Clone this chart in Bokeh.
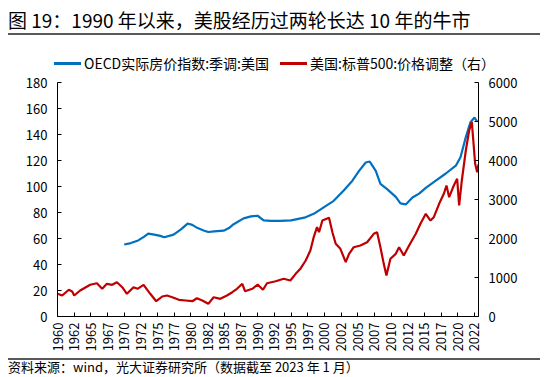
from bokeh.plotting import figure
from bokeh.models import Range1d, LinearAxis, FixedTicker, Div
from bokeh.layouts import column
from bokeh.embed import file_html
from bokeh.resources import INLINE
import math

# ---------------- data ----------------
house_year = [1970.0, 1971.0, 1972.1, 1973.0, 1973.6, 1974.5, 1975.4, 1976.0, 1977.4, 1978.5,
              1979.5, 1980.2, 1981.0, 1982.0, 1982.6, 1983.5, 1984.9, 1985.7, 1986.4, 1987.9,
              1989.0, 1990.0, 1990.9, 1992.0, 1993.4, 1995.0, 1997.0, 1998.4, 1999.9, 2001.4,
              2002.9, 2004.2, 2005.2, 2006.2, 2006.8, 2007.7, 2008.4, 2009.4, 2010.7, 2011.4,
              2012.2, 2013.2, 2014.2, 2015.2, 2016.7, 2018.2, 2019.7, 2020.4, 2021.2, 2021.9,
              2022.5, 2022.9]
house_val = [55.4, 56.5, 58.5, 61.5, 63.8, 63.0, 62.0, 61.0, 63.0, 67.0,
             71.5, 70.5, 68.0, 66.0, 65.0, 65.5, 66.0, 68.0, 71.0, 75.5,
             77.0, 77.5, 74.0, 73.5, 73.5, 74.0, 76.0, 79.0, 84.0, 89.0,
             97.0, 104.5, 112.0, 118.5, 119.2, 112.0, 102.0, 98.0, 92.0, 87.0,
             86.2, 91.5, 94.5, 99.0, 104.5, 110.0, 116.0, 122.5, 138.0, 149.5,
             153.0, 150.0]

sp_year = [1960.0, 1960.7, 1961.7, 1962.2, 1962.5, 1963.4, 1964.9, 1965.9, 1966.7, 1967.4,
           1968.2, 1968.9, 1969.7, 1970.4, 1971.4, 1972.0, 1972.9, 1973.9, 1974.8, 1975.7,
           1976.4, 1977.2, 1978.2, 1979.2, 1980.2, 1980.9, 1981.7, 1982.6, 1983.4, 1984.4,
           1985.4, 1986.2, 1986.9, 1987.7, 1988.1, 1989.2, 1990.0, 1990.8, 1991.4, 1992.7,
           1993.9, 1994.9, 1995.7, 1996.4, 1997.2, 1997.9, 1998.4, 1998.9, 1999.2, 1999.7,
           2000.7, 2001.2, 2001.7, 2002.4, 2003.2, 2003.7, 2004.4, 2005.4, 2006.4, 2007.4,
           2007.9, 2008.4, 2008.9, 2009.3, 2009.9, 2010.7, 2011.2, 2011.9, 2012.7, 2013.7,
           2014.4, 2015.2, 2015.9, 2016.4, 2017.2, 2017.9, 2018.3, 2018.7, 2019.4, 2019.9,
           2020.2, 2020.6, 2021.2, 2021.7, 2022.1, 2022.4, 2022.6, 2022.9, 2023.1]
sp_val = [582, 538, 685, 640, 538, 667, 813, 853, 710, 838,
          813, 880, 751, 582, 751, 710, 813, 582, 392, 513,
          538, 495, 428, 410, 392, 469, 410, 325, 495, 453,
          538, 623, 710, 838, 649, 710, 820, 685, 853, 905,
          967, 923, 1094, 1222, 1436, 1692, 2034, 2290, 2162, 2461,
          2530, 2162, 1864, 1736, 1392, 1607, 1777, 1820, 1905, 2120,
          2162, 1777, 1350, 1051, 1479, 1607, 1777, 1564, 1820, 2120,
          2376, 2633, 2461, 2547, 2889, 3146, 3359, 3059, 3359, 3530,
          2846, 3487, 4256, 4769, 4982, 4341, 3915, 3700, 3900]

x_tick_pos = [1960 + 2.5 * i for i in range(26)]
x_tick_labels = ["1960", "1962", "1965", "1967", "1970", "1972", "1975", "1977", "1980",
                 "1982", "1985", "1987", "1990", "1992", "1995", "1997", "2000", "2002",
                 "2005", "2007", "2010", "2012", "2015", "2017", "2020", "2022"]
left_ticks = [0, 20, 40, 60, 80, 100, 120, 140, 160, 180]
right_ticks = [0, 1000, 2000, 3000, 4000, 5000, 6000]

title_text = "图 19：1990 年以来，美股经历过两轮长达 10 年的牛市"
source_text = "资料来源：wind，光大证券研究所（数据截至 2023 年 1 月）"
name_house = "OECD实际房价指数:季调:美国"
name_sp = "美国:标普500:价格调整（右）"

FONT = "Noto Sans CJK SC"
BLUE = "#0070C0"
RED = "#C00000"
RULE = "#595959"

# ---------------- header: title, rule, legend ----------------
ff = "font-family:'Noto Sans CJK SC';color:#000;white-space:nowrap;position:absolute;"
header_html = (
    "<div style=\"position:relative;width:550px;height:72px;\">"
    f"<div style=\"{ff}left:8px;top:8px;font-size:19px;line-height:23px;\">{title_text}</div>"
    f"<div style=\"position:absolute;left:8px;top:33px;width:532px;height:2px;background:{RULE};\"></div>"
    f"<div style=\"position:absolute;left:54px;top:62px;width:27px;height:2.5px;background:{BLUE};\"></div>"
    f"<div style=\"{ff}left:84px;top:54px;font-size:14px;line-height:18px;\">{name_house}</div>"
    f"<div style=\"position:absolute;left:280px;top:62px;width:27px;height:2.5px;background:{RED};\"></div>"
    f"<div style=\"{ff}left:310px;top:54px;font-size:14px;line-height:18px;\">{name_sp}</div>"
    "</div>"
)
header = Div(text=header_html, width=550, height=72, margin=0)

# ---------------- main chart ----------------
p = figure(width=550, height=286, output_backend="svg", toolbar_location=None,
           x_range=Range1d(1960, 2023.1), y_range=Range1d(0, 180),
           min_border_left=57, min_border_right=72, min_border_top=10,
           min_border_bottom=42, margin=0)
p.extra_y_ranges = {"right": Range1d(0, 6000)}
p.outline_line_color = None
p.xgrid.visible = False
p.ygrid.visible = False

p.line(house_year, house_val, line_color=BLUE, line_width=2.2)
p.line(sp_year, sp_val, line_color=RED, line_width=2.2, y_range_name="right")

right_axis = LinearAxis(y_range_name="right")
p.add_layout(right_axis, "right")

for ax in [p.xaxis[0], p.yaxis[0], right_axis]:
    ax.axis_line_color = "#000000"
    ax.axis_line_width = 1
    ax.major_tick_line_color = "#000000"
    ax.major_tick_in = 4
    ax.major_tick_out = 0
    ax.minor_tick_line_color = None
    ax.major_label_text_font = FONT
    ax.major_label_text_font_size = "13px"
    ax.major_label_text_color = "#000000"

p.xaxis.ticker = FixedTicker(ticks=x_tick_pos)
p.xaxis.major_label_overrides = {t: l for t, l in zip(x_tick_pos, x_tick_labels)}
p.xaxis.major_label_orientation = math.pi / 2
p.xaxis.major_label_standoff = 6
p.yaxis[0].ticker = FixedTicker(ticks=left_ticks)
p.yaxis[0].major_label_standoff = 10
right_axis.ticker = FixedTicker(ticks=right_ticks)
right_axis.major_label_standoff = 10

# ---------------- footer: rule, source ----------------
footer_html = (
    "<div style=\"position:relative;width:550px;height:19px;\">"
    f"<div style=\"position:absolute;left:8px;top:0px;width:532px;height:1.5px;background:{RULE};\"></div>"
    f"<div style=\"{ff}left:8px;top:1px;font-size:13px;line-height:16px;\">{source_text}</div>"
    "</div>"
)
footer = Div(text=footer_html, width=550, height=19, margin=0)

layout = column(header, p, footer, spacing=0)
open("out.html", "w").write(file_html(layout, INLINE))
